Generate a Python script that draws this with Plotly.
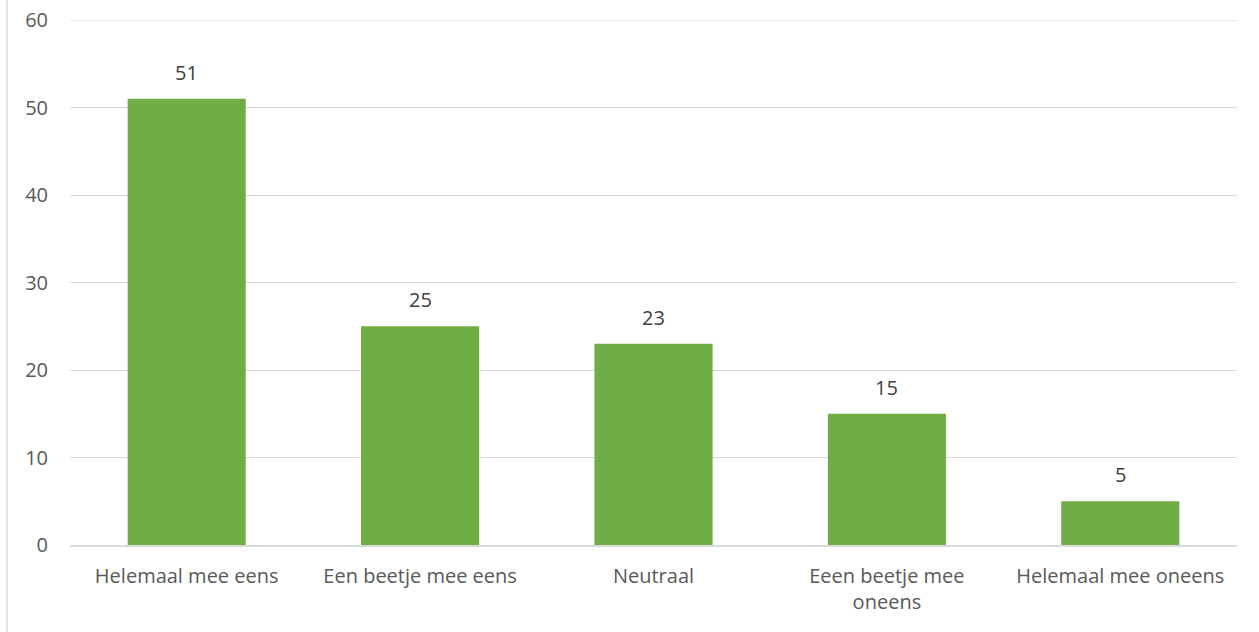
import plotly.graph_objects as go

categories = ["Helemaal mee eens", "Een beetje mee eens", "Neutraal", "Eeen beetje mee<br>oneens", "Helemaal mee oneens"]
values = [51, 25, 23, 15, 5]
y_ticks = [0, 10, 20, 30, 40, 50, 60]

FONT = "Open Sans, Liberation Sans, sans-serif"
FS = 20

fig = go.Figure()
fig.add_trace(go.Bar(
    x=categories, y=values,
    marker=dict(color="#6FAE44", line=dict(width=0)),
    width=0.506,
    hoverinfo="x+y",
))

for c, v in zip(categories, values):
    fig.add_annotation(x=c, y=v, text=str(v), showarrow=False, yanchor="bottom", yshift=11,
                       font=dict(family=FONT, size=FS, color="#404040"))

fig.add_shape(type="line", xref="paper", yref="paper", x0=-0.0540, x1=-0.0540, y0=-0.2, y1=1.1,
              line=dict(color="#D9D9D9", width=1.5))
# top gridline (hidden by plotly at the range edge)
fig.add_shape(type="line", xref="paper", yref="y", x0=0, x1=1, y0=max(y_ticks), y1=max(y_ticks),
              line=dict(color="#D9D9D9", width=1), layer="below")

fig.update_layout(
    width=1259, height=632,
    margin=dict(l=70, r=22, t=20, b=87, autoexpand=False),
    paper_bgcolor="white", plot_bgcolor="white",
    showlegend=False,
    font=dict(family=FONT, size=FS, color="#595959"),
)
fig.update_xaxes(
    showgrid=False, showline=True, linecolor="#D9D9D9", linewidth=1.5, automargin=False,
    ticks="", ticklabelstandoff=12, tickfont=dict(size=FS, color="#595959"),
)
fig.update_yaxes(
    range=[0, 60], tickvals=y_ticks, showgrid=True, gridcolor="#D9D9D9", gridwidth=1,
    zeroline=False, showline=False, ticks="", ticklabelstandoff=21, automargin=False,
    tickfont=dict(size=FS, color="#595959"),
)

fig.write_html("out.html", config={"displayModeBar": False},
               post_script="document.body.style.margin='0';document.body.style.overflow='hidden';")
